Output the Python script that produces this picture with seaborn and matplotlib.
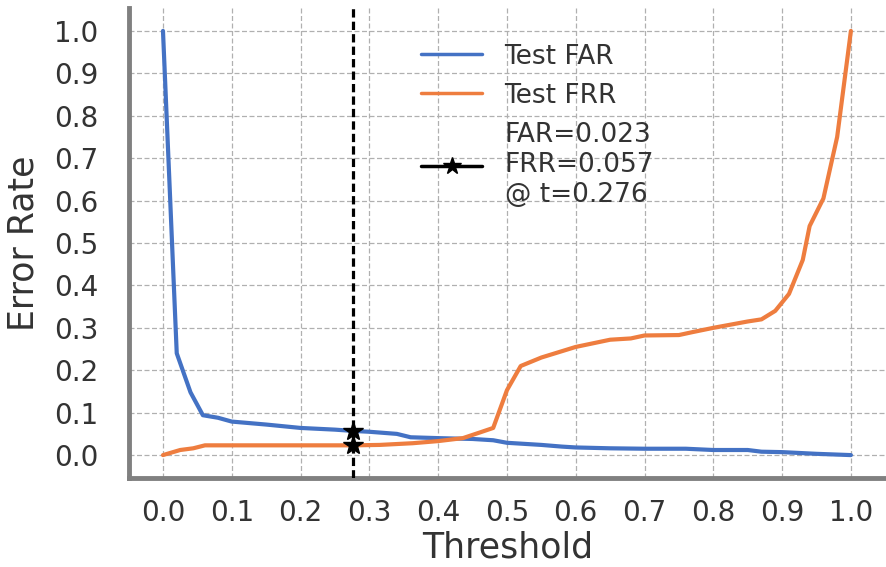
import matplotlib
matplotlib.use("Agg")
import matplotlib.pyplot as plt
import seaborn as sns
import pandas as pd
import numpy as np

far_t = [0.0, 0.02, 0.04, 0.058, 0.08, 0.1, 0.15, 0.2, 0.25, 0.276, 0.3, 0.34, 0.36, 0.4, 0.45, 0.48, 0.5,
         0.55, 0.58, 0.6, 0.65, 0.7, 0.76, 0.8, 0.85, 0.87, 0.9, 0.95, 1.0]
far_v = [1.0, 0.24, 0.148, 0.094, 0.088, 0.079, 0.072, 0.064, 0.06, 0.057, 0.055, 0.05, 0.042, 0.04, 0.038,
         0.035, 0.029, 0.024, 0.02, 0.018, 0.016, 0.015, 0.015, 0.012, 0.012, 0.008, 0.007, 0.003, 0.0]

frr_t = [0.0, 0.025, 0.044, 0.061, 0.1, 0.2, 0.276, 0.315, 0.363, 0.4, 0.436, 0.46, 0.48, 0.5, 0.52, 0.55,
         0.6, 0.65, 0.68, 0.7, 0.75, 0.77, 0.8, 0.85, 0.87, 0.89, 0.9, 0.91, 0.93, 0.94, 0.96, 0.98, 1.0]
frr_v = [0.0, 0.012, 0.016, 0.023, 0.023, 0.023, 0.023, 0.024, 0.028, 0.033, 0.04, 0.053, 0.064, 0.153,
         0.21, 0.23, 0.255, 0.272, 0.275, 0.282, 0.283, 0.29, 0.3, 0.315, 0.32, 0.34, 0.36, 0.38, 0.46,
         0.54, 0.605, 0.75, 1.0]

opt_t = 0.276
opt_far = 0.023
opt_frr = 0.057

ticks = [0.0, 0.1, 0.2, 0.3, 0.4, 0.5, 0.6, 0.7, 0.8, 0.9, 1.0]
tick_labels = ["0.0", "0.1", "0.2", "0.3", "0.4", "0.5", "0.6", "0.7", "0.8", "0.9", "1.0"]

sns.set_theme(style="whitegrid")
plt.rcParams['font.family'] = ['DejaVu Sans']

text_c = "#333333"
fig = plt.figure(figsize=(8.86, 5.67), dpi=100)
ax = fig.add_axes([129/886, 89/567, 757/886, 470/567])

df_far = pd.DataFrame({"t": far_t, "v": far_v})
df_frr = pd.DataFrame({"t": frr_t, "v": frr_v})
sns.lineplot(data=df_far, x="t", y="v", ax=ax, color="#4472c4", lw=3, label="Test FAR")
sns.lineplot(data=df_frr, x="t", y="v", ax=ax, color="#ee7d3f", lw=3, label="Test FRR")

ax.axvline(opt_t, color="black", ls=(0, (2.6, 1.3)), lw=2.3, zorder=4)
ax.plot([opt_t, opt_t], [opt_far, opt_frr], color="black", lw=2, marker="*", markersize=15,
        ls="-", zorder=5, label=f"FAR={opt_far:.3f}\nFRR={opt_frr:.3f}\n@ t={opt_t:.3f}")

ax.set_xlim(-0.0494, 1.051)
ax.set_ylim(-0.054, 1.054)
ax.set_xticks(ticks)
ax.set_xticklabels(tick_labels)
ax.set_yticks(ticks)
ax.set_yticklabels(tick_labels)
ax.tick_params(axis="x", labelsize=20, pad=15, colors=text_c, length=0)
ax.tick_params(axis="y", labelsize=20, pad=22, colors=text_c, length=0)
ax.set_xlabel("Threshold", fontsize=25, color=text_c, labelpad=3)
ax.set_ylabel("Error Rate", fontsize=25, color=text_c, labelpad=10)

ax.grid(True, color="#b0b0b0", ls=(0, (4, 2)), lw=0.9)
ax.set_facecolor("white")
for s in ["top", "right"]:
    ax.spines[s].set_visible(False)
for s in ["left", "bottom"]:
    ax.spines[s].set_color("#808080")
    ax.spines[s].set_linewidth(3.5)

leg = ax.legend(loc="upper left", bbox_to_anchor=(0.355, 0.975), frameon=False, fontsize=19,
                handlelength=2.3, labelspacing=0.5, handletextpad=0.85)
for t in leg.get_texts():
    t.set_color(text_c)
for h in leg.get_lines():
    h.set_linewidth(2.5)
leg.get_lines()[2].set_markersize(13)

fig.savefig("out.png", dpi=100)
